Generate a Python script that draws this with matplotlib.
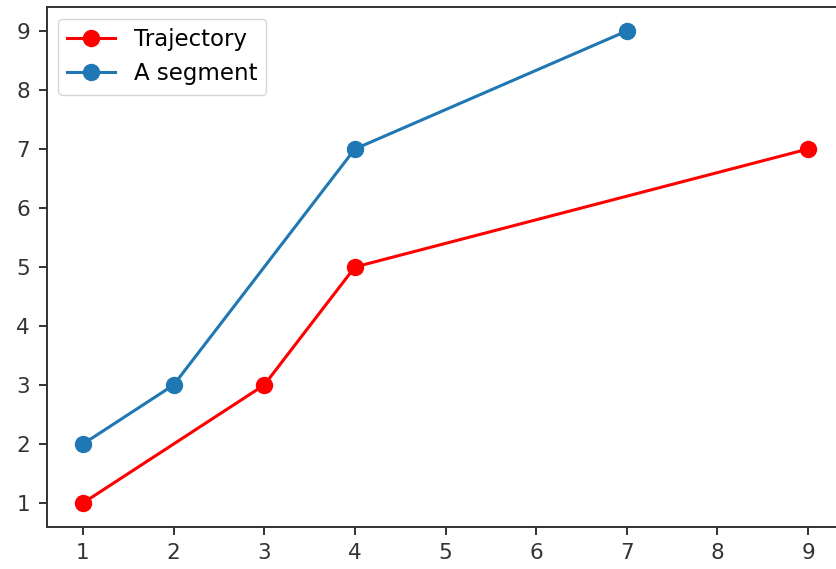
import matplotlib.pyplot as plt

# data
traj_x = [1, 3, 4, 9]
traj_y = [1, 3, 5, 7]
seg_x = [1, 2, 4, 7]
seg_y = [2, 3, 7, 9]

fig = plt.figure(figsize=(8.36, 5.69), dpi=100)
ax = fig.add_axes([0.0559, 0.0745, 0.954, 0.9125])

ax.plot(traj_x, traj_y, color='red', marker='o', markersize=11.5, linewidth=2.2, label='Trajectory')
ax.plot(seg_x, seg_y, color='#1f77b4', marker='o', markersize=11.5, linewidth=2.2, label='A segment')

ax.set_xticks(range(1, 10))
ax.set_yticks(range(1, 10))
ax.tick_params(labelsize=15.5, length=6, width=1.4, pad=6, colors='#333333')
for s in ax.spines.values():
    s.set_linewidth(1.4)
    s.set_color('#333333')

ax.legend(loc='upper left', fontsize=16.5, handlelength=2.1, borderpad=0.4, labelspacing=0.5)

fig.savefig('out.png', dpi=100)
